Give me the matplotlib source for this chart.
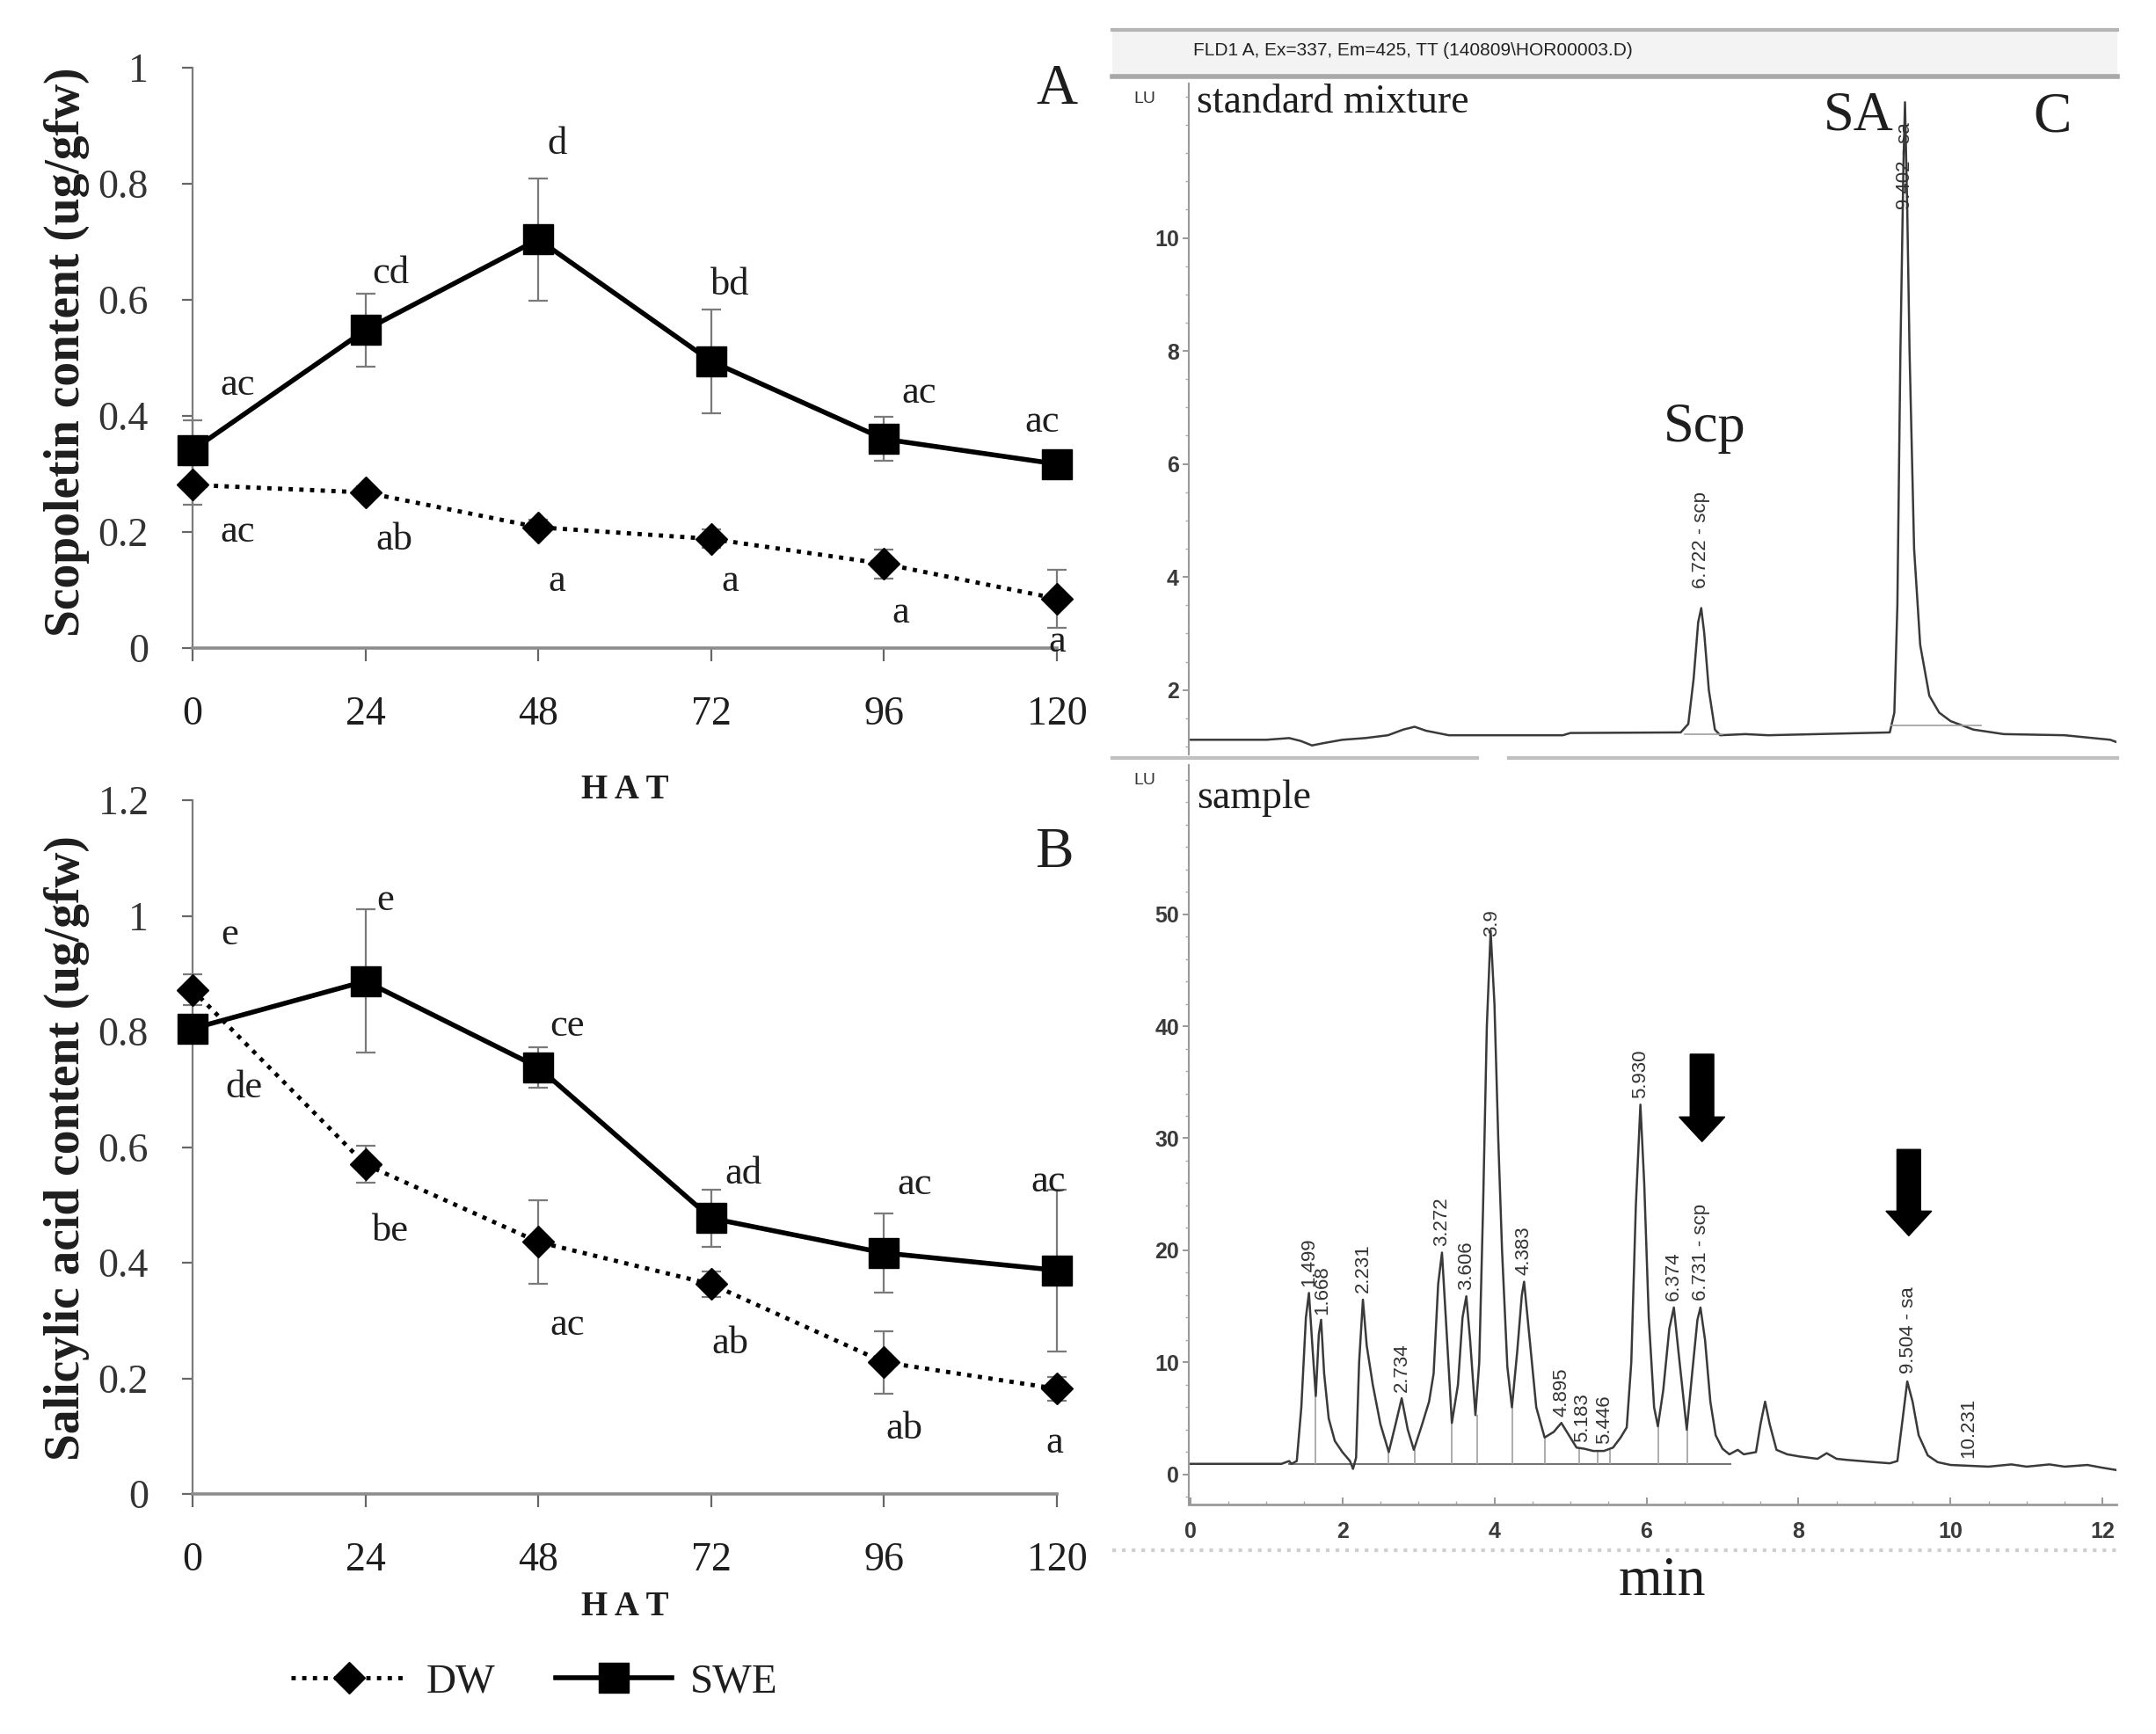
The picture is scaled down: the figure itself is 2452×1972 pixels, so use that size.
import numpy as np
import matplotlib
matplotlib.use('Agg')
import matplotlib.pyplot as plt
from matplotlib.lines import Line2D
from matplotlib.patches import FancyArrow, Rectangle
from matplotlib.ticker import MultipleLocator

plt.rcParams['font.family'] = ['Liberation Serif', 'DejaVu Serif']

# ---- panels A and B : time course ----
hat = [0, 24, 48, 72, 96, 120]

scp_swe = [0.341, 0.548, 0.704, 0.494, 0.360, 0.317]
scp_swe_err = [0.052, 0.063, 0.105, 0.089, 0.038, 0.015]
scp_dw = [0.281, 0.268, 0.208, 0.188, 0.145, 0.085]
scp_dw_err = [0.034, 0.010, 0.013, 0.016, 0.025, 0.050]

sa_swe = [0.805, 0.887, 0.738, 0.477, 0.417, 0.387]
sa_swe_err = [0.015, 0.124, 0.035, 0.050, 0.068, 0.140]
sa_dw = [0.872, 0.570, 0.436, 0.363, 0.228, 0.182]
sa_dw_err = [0.027, 0.032, 0.072, 0.022, 0.054, 0.020]

# significance letters and where they sit
scp_swe_let = ['ac', 'cd', 'd', 'bd', 'ac', 'ac']
scp_swe_let_pos = [(6.2, 0.453), (27.5, 0.646), (50.6, 0.868), (74.6, 0.625), (100.8, 0.439), (118, 0.389)]
scp_dw_let = ['ac', 'ab', 'a', 'a', 'a', 'a']
scp_dw_let_pos = [(6.2, 0.200), (28, 0.187), (50.6, 0.115), (74.6, 0.115), (98.3, 0.060), (120, 0.011)]
sa_swe_let = ['de', 'e', 'ce', 'ad', 'ac', 'ac']
sa_swe_let_pos = [(7.1, 0.703), (26.7, 1.026), (52, 0.810), (76.5, 0.553), (100.2, 0.535), (118.8, 0.540)]
sa_dw_let = ['e', 'be', 'ac', 'ab', 'ab', 'a']
sa_dw_let_pos = [(5.2, 0.968), (27.5, 0.455), (52, 0.292), (74.6, 0.260), (98.8, 0.113), (119.7, 0.089)]

# ---- panel C : chromatograms (time in min, signal in LU) ----
std_t = [0.0, 1.0, 1.3, 1.45, 1.6, 1.75, 2.0, 2.3, 2.6, 2.8, 2.95, 3.1, 3.4, 4.9, 5.0, 6.45,
         6.55, 6.62, 6.68, 6.72, 6.76, 6.82, 6.90, 6.97, 7.3, 7.6, 9.2, 9.26, 9.30, 9.34,
         9.38, 9.40, 9.43, 9.46, 9.52, 9.60, 9.72, 9.85, 10.0, 10.3, 10.7, 11.5, 12.1, 12.18]
std_v = [1.12, 1.12, 1.15, 1.10, 1.02, 1.06, 1.12, 1.15, 1.20, 1.30, 1.35, 1.28, 1.20, 1.20, 1.24, 1.25,
         1.40, 2.20, 3.20, 3.45, 3.00, 2.00, 1.30, 1.20, 1.22, 1.20, 1.25, 1.60, 3.50, 8.00,
         11.3, 12.4, 10.5, 8.00, 4.50, 2.80, 1.90, 1.60, 1.45, 1.30, 1.22, 1.20, 1.12, 1.08]

smp_t = [0.00, 1.20, 1.30, 1.33, 1.40, 1.46, 1.52, 1.56, 1.60, 1.65, 1.69, 1.72, 1.76, 1.82,
         1.90, 2.00, 2.10, 2.14, 2.18, 2.22, 2.27, 2.32, 2.40, 2.50, 2.61, 2.70, 2.78, 2.86,
         2.94, 3.05, 3.14, 3.20, 3.26, 3.31, 3.36, 3.44, 3.52, 3.58, 3.63, 3.68, 3.75, 3.80,
         3.85, 3.90, 3.95, 4.00, 4.05, 4.10, 4.17, 4.23, 4.30, 4.36, 4.39, 4.45, 4.55, 4.66,
         4.78, 4.88, 4.98, 5.08, 5.18, 5.30, 5.44, 5.56, 5.66, 5.74, 5.80, 5.86, 5.92, 5.97,
         6.03, 6.10, 6.15, 6.22, 6.30, 6.36, 6.42, 6.53, 6.60, 6.67, 6.71, 6.77, 6.84, 6.91,
         7.00, 7.09, 7.20, 7.28, 7.44, 7.50, 7.56, 7.62, 7.71, 7.85, 8.02, 8.25, 8.37, 8.50,
         8.64, 9.00, 9.20, 9.30, 9.37, 9.43, 9.50, 9.58, 9.70, 9.83, 10.0, 10.5, 10.8, 11.0,
         11.3, 11.5, 11.8, 12.0, 12.18]
smp_v = [0.95, 0.95, 1.20, 0.95, 1.20, 6.00, 14.0, 16.2, 12.0, 7.00, 12.5, 13.8, 9.00, 5.00,
         3.00, 2.00, 1.20, 0.50, 1.50, 10.0, 15.6, 11.5, 8.00, 4.50, 2.00, 4.50, 6.80, 4.00,
         2.20, 4.50, 6.50, 9.00, 17.0, 19.8, 14.0, 4.60, 8.00, 14.0, 15.9, 12.0, 5.30, 10.0,
         23.7, 40.0, 48.5, 42.0, 30.0, 20.0, 9.60, 6.00, 11.0, 16.0, 17.2, 13.0, 6.00, 3.30,
         3.80, 4.60, 3.50, 2.40, 2.30, 2.10, 2.10, 2.40, 3.30, 4.20, 10.0, 24.0, 33.0, 26.0,
         14.0, 6.00, 4.30, 7.50, 13.0, 14.9, 11.0, 4.00, 9.00, 13.8, 14.9, 12.0, 6.50, 3.50,
         2.30, 1.80, 2.20, 1.80, 2.00, 4.50, 6.50, 4.50, 2.20, 1.80, 1.60, 1.40, 1.90, 1.40,
         1.30, 1.10, 1.00, 1.20, 5.00, 8.30, 6.50, 3.50, 1.70, 1.10, 0.85, 0.70, 0.90, 0.70,
         0.90, 0.70, 0.85, 0.60, 0.40]

std_peaks = [(6.72, 3.8, '6.722 - scp'), (9.40, 10.5, '9.402 - sa')]
smp_peaks = [(1.56, 16.8, '1.499'), (1.73, 14.3, '1.668'), (2.27, 16.2, '2.231'),
             (2.78, 7.4, '2.734'), (3.31, 20.4, '3.272'), (3.63, 16.5, '3.606'),
             (3.96, 48.0, '3.9'), (4.39, 17.8, '4.383'), (4.88, 5.2, '4.895'),
             (5.16, 2.9, '5.183'), (5.44, 2.7, '5.446'), (5.92, 33.6, '5.930'),
             (6.36, 15.5, '6.374'), (6.72, 15.5, '6.731 - scp'), (9.45, 9.0, '9.504 - sa'),
             (10.23, 1.5, '10.231')]

drop_t = [1.65, 2.13, 2.61, 2.95, 3.44, 3.77, 4.24, 4.66, 5.12, 5.36, 5.52, 6.16, 6.54]
drop_top = [7.0, 0.5, 2.0, 2.2, 4.6, 5.3, 6.0, 3.3, 2.4, 2.1, 2.2, 4.3, 4.0]

fig = plt.figure(figsize=(24.52, 19.72), dpi=100)

axA = fig.add_axes([0.0893, 0.6263, 0.4009, 0.3347])
axB = fig.add_axes([0.0893, 0.1384, 0.4009, 0.4001])
axC1 = fig.add_axes([0.5514, 0.5649, 0.4302, 0.3869])
axC2 = fig.add_axes([0.5514, 0.1324, 0.4302, 0.4264])

ink = '#1e1e1e'


def time_course(ax, swe, swe_err, dw, dw_err, ymax, yticks, ylabels):
    ax.errorbar(hat, swe, yerr=swe_err, fmt='none', ecolor='#7a7a7a', elinewidth=1.6,
                capsize=8, capthick=1.6, zorder=2, clip_on=False)
    ax.errorbar(hat, dw, yerr=dw_err, fmt='none', ecolor='#7a7a7a', elinewidth=1.6,
                capsize=8, capthick=1.6, zorder=2, clip_on=False)
    l_dw, = ax.plot(hat, dw, color='k', lw=3.5, ls=(0, (1, 1.5)), marker='D', ms=18,
                    zorder=3, clip_on=False)
    l_swe, = ax.plot(hat, swe, color='k', lw=4, marker='s', ms=25, zorder=4, clip_on=False)
    ax.set_xlim(0, 120)
    ax.set_ylim(0, ymax)
    ax.set_xticks(hat)
    ax.set_xticklabels([str(h) for h in hat])
    ax.set_yticks(yticks)
    ax.set_yticklabels(ylabels)
    for s in ['top', 'right']:
        ax.spines[s].set_visible(False)
    ax.spines['left'].set_color('#7c7c7c')
    ax.spines['left'].set_linewidth(1.6)
    ax.spines['bottom'].set_color('#8c8c8c')
    ax.spines['bottom'].set_linewidth(2.6)
    ax.tick_params(axis='x', direction='out', length=11, width=1.6, color='#666666',
                   pad=28, labelsize=33, labelcolor=ink)
    ax.tick_params(axis='y', direction='out', length=9, width=1.6, color='#666666',
                   pad=27, labelsize=33, labelcolor='#333333')
    return l_dw, l_swe


l_dw, l_swe = time_course(axA, scp_swe, scp_swe_err, scp_dw, scp_dw_err, 1.0,
                          [0, 0.2, 0.4, 0.6, 0.8, 1.0], ['0', '0.2', '0.4', '0.6', '0.8', '1'])
time_course(axB, sa_swe, sa_swe_err, sa_dw, sa_dw_err, 1.2,
            [0, 0.2, 0.4, 0.6, 0.8, 1.0, 1.2], ['0', '0.2', '0.4', '0.6', '0.8', '1', '1.2'])

for ax, lets, poss in [(axA, scp_swe_let, scp_swe_let_pos), (axA, scp_dw_let, scp_dw_let_pos),
                       (axB, sa_swe_let, sa_swe_let_pos), (axB, sa_dw_let, sa_dw_let_pos)]:
    for t, (x, y) in zip(lets, poss):
        ax.text(x, y, t, fontsize=32, color=ink, ha='center', va='center', zorder=5, clip_on=False)

fig.text(0.031, 0.797, 'Scopoletin content (ug/gfw)', rotation=90, fontsize=40,
         fontweight='bold', ha='center', va='center', color=ink)
fig.text(0.031, 0.338, 'Salicylic acid content (ug/gfw)', rotation=90, fontsize=40,
         fontweight='bold', ha='center', va='center', color=ink)
hat_label = 'H\u2009A\u2009T'
fig.text(0.290, 0.5445, hat_label, fontsize=28, fontweight='bold', ha='center', va='center', color=ink)
fig.text(0.290, 0.0735, hat_label, fontsize=28, fontweight='bold', ha='center', va='center', color=ink)
fig.text(0.490, 0.948, 'A', fontsize=47, ha='center', va='center', color=ink)
fig.text(0.489, 0.508, 'B', fontsize=47, ha='center', va='center', color=ink)

fig.legend(handles=[l_dw, l_swe], labels=['DW', 'SWE'], loc='center',
           bbox_to_anchor=(0.248, 0.030), ncol=2, frameon=False, fontsize=34,
           handlelength=2.8, columnspacing=1.45, handletextpad=0.45, numpoints=1,
           labelcolor=ink)

# ---- chromatogram frame (screenshot look) ----
fig.patches.append(Rectangle((0.516, 0.9559), 0.466, 0.0269, transform=fig.transFigure,
                             facecolor='#f3f3f3', edgecolor='none', zorder=0))
for y, lw, c in [(0.9828, 3, '#b4b4b4'), (0.9559, 4, '#a8a8a8')]:
    fig.add_artist(Line2D([0.516, 0.982], [y, y], transform=fig.transFigure, color=c, lw=lw))
fig.add_artist(Line2D([0.516, 0.685], [0.5629, 0.5629], transform=fig.transFigure, color='#c0c0c0', lw=3))
fig.add_artist(Line2D([0.700, 0.982], [0.5629, 0.5629], transform=fig.transFigure, color='#c0c0c0', lw=3))
fig.add_artist(Line2D([0.516, 0.982], [0.106, 0.106], transform=fig.transFigure, color='#cfcfcf',
                      lw=3, ls=':'))
fig.text(0.5534, 0.971, 'FLD1 A, Ex=337, Em=425, TT (140809\\HOR00003.D)', fontsize=15,
         family='Liberation Sans', ha='left', va='center', color='#222222')
fig.text(0.531, 0.943, 'LU', fontsize=14, family='Liberation Sans', ha='center', va='center', color='#333333')
fig.text(0.531, 0.550, 'LU', fontsize=14, family='Liberation Sans', ha='center', va='center', color='#333333')
fig.text(0.555, 0.9407, 'standard mixture', fontsize=33, ha='left', va='center', color=ink)
fig.text(0.555, 0.5396, 'sample', fontsize=33, ha='left', va='center', color=ink)
fig.text(0.771, 0.0877, 'min', fontsize=46, ha='center', va='center', color=ink)
fig.text(0.952, 0.932, 'C', fontsize=47, ha='center', va='center', color=ink)

trace = '#3a3a3a'
for ax in (axC1, axC2):
    ax.set_xlim(-0.02, 12.18)
    for s in ['top', 'right', 'bottom']:
        ax.spines[s].set_visible(False)
    ax.spines['left'].set_color('#9a9a9a')
    ax.spines['left'].set_linewidth(1.5)
    ax.tick_params(axis='y', which='major', direction='out', length=5, width=1.2,
                   color='#888888', labelsize=18, labelcolor='#3a3a3a', pad=3)
    ax.tick_params(axis='y', which='minor', direction='out', length=3, width=1.0, color='#aaaaaa')

# standard mixture
axC1.plot(std_t, std_v, color=trace, lw=1.8)
axC1.plot([6.50, 7.00], [1.22, 1.22], color='#a0a0a0', lw=1.2)
axC1.plot([9.22, 10.4], [1.37, 1.37], color='#a0a0a0', lw=1.2)
axC1.set_ylim(0.86, 12.73)
axC1.set_yticks([2, 4, 6, 8, 10])
axC1.yaxis.set_minor_locator(MultipleLocator(0.5))
axC1.tick_params(axis='x', bottom=False, labelbottom=False)
for x, y, s in std_peaks:
    axC1.text(x, y, s, rotation=90, fontsize=16, family='Liberation Sans', color='#333333',
              ha='center', va='bottom', clip_on=True)
axC1.text(6.76, 6.63, 'Scp', fontsize=45, ha='center', va='center', color=ink)
axC1.text(8.79, 12.15, 'SA', fontsize=45, ha='center', va='center', color=ink)

# sample
axC2.plot([1.3, 7.1], [0.95, 0.95], color='#707070', lw=1.4)
axC2.vlines(drop_t, 0.95, drop_top, color='#a0a0a0', lw=1.2)
axC2.plot(smp_t, smp_v, color=trace, lw=1.8)
axC2.set_ylim(-2.67, 63.3)
axC2.set_yticks([0, 10, 20, 30, 40, 50])
axC2.yaxis.set_minor_locator(MultipleLocator(2))
axC2.spines['bottom'].set_visible(True)
axC2.spines['bottom'].set_color('#9a9a9a')
axC2.spines['bottom'].set_linewidth(2.0)
axC2.set_xticks([0, 2, 4, 6, 8, 10, 12])
axC2.xaxis.set_minor_locator(MultipleLocator(0.5))
axC2.tick_params(axis='x', which='major', direction='in', length=6, width=1.2, color='#888888',
                 labelsize=18, labelcolor='#3a3a3a', pad=14)
axC2.tick_params(axis='x', which='minor', direction='in', length=3, width=1.0, color='#aaaaaa')
for ax in (axC1, axC2):
    for lab in ax.get_xticklabels() + ax.get_yticklabels():
        lab.set_family('Liberation Sans')
        lab.set_fontweight('bold')
for x, y, s in smp_peaks:
    axC2.text(x, y, s, rotation=90, fontsize=16, family='Liberation Sans', color='#333333',
              ha='center', va='bottom')

axC2.add_patch(FancyArrow(6.73, 37.5, 0, -7.8, width=0.31, head_width=0.60, head_length=2.2,
                          length_includes_head=True, color='k'))
axC2.add_patch(FancyArrow(9.45, 29.0, 0, -7.7, width=0.31, head_width=0.60, head_length=2.2,
                          length_includes_head=True, color='k'))

fig.savefig('out.png', dpi=100)
